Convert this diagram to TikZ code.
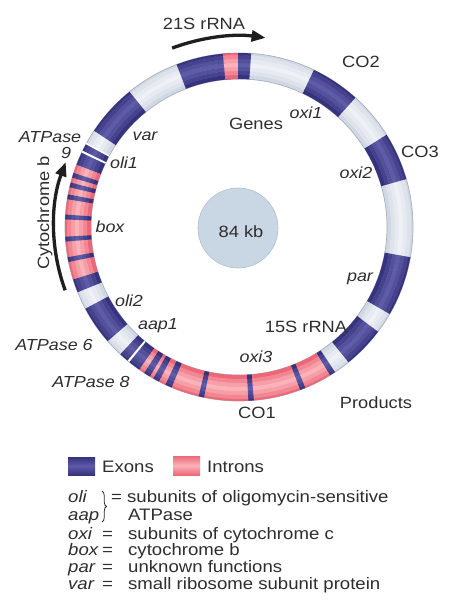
\documentclass[tikz,border=0pt]{standalone}
\usepackage{fontspec}
\setmainfont{Liberation Sans}[FakeStretch=1.12]
\usetikzlibrary{arrows.meta,decorations.pathreplacing}
\definecolor{exD}{HTML}{36327C}
\definecolor{exM}{HTML}{5E5BA7}
\definecolor{inD}{HTML}{EC6878}
\definecolor{inM}{HTML}{FBB2B8}
\definecolor{ltD}{HTML}{D2D8E3}
\definecolor{ltM}{HTML}{EEF1F6}
\definecolor{rim}{HTML}{A8B0BD}
\definecolor{kbF}{HTML}{C9D6E4}
\definecolor{kbB}{HTML}{B0BFCF}
\definecolor{txt}{HTML}{2E2E2E}
\definecolor{arr}{HTML}{1E1E1E}
\newcommand\annsec[5]{\fill[#5] ({#1}:#4pt) arc[start angle={#1},end angle={#2},radius=#4pt] -- ({#2}:#3pt) arc[start angle={#2},end angle={#1},radius=#3pt] -- cycle;}
\newcommand\ringband[4]{%
  \foreach \ri/\ro/\p in {148/152.3/0,152/156.3/40,156/160.3/75,160/164.3/100,164/168.3/75,168/172.3/40,172/174/0}{\annsec{#1}{#2}{\ri}{\ro}{#4!\p!#3}}}
\tikzset{
  lab/.style={font=\fontsize{16.3}{18}\selectfont, text=txt, inner sep=0pt, anchor=base},
  ilab/.style={lab, font=\fontsize{16}{18}\selectfont\itshape},
  leg/.style={font=\fontsize{16.6}{18}\selectfont, text=txt, inner sep=0pt, anchor=base west},
  ileg/.style={leg, font=\fontsize{16.6}{18}\selectfont\itshape},
  bigarrow/.style={line width=3.3pt, draw=arr, -{Triangle[length=14pt,width=11pt]}}
}
\begin{document}
\begin{tikzpicture}[x=1pt,y=-1pt]
\useasboundingbox (0,0) rectangle (463,610);
\fill[white] (0,0) rectangle (463,610);
\begin{scope}[shift={(239,227)}]
  % base ring
  \ringband{0}{360}{ltD}{ltM}
  \draw[rim, line width=0.7pt] (0,0) circle[radius=148pt];
  \draw[rim, line width=0.7pt] (0,0) circle[radius=174pt];
  % 21S rRNA
  \ringband{86}{111}{exD}{exM}
  \ringband{90.4}{95.3}{inD}{inM}
  % CO2, CO3
  \ringband{48}{64.5}{exD}{exM}
  \ringband{16}{32}{exD}{exM}
  % par
  \ringband{-30}{-10}{exD}{exM}
  % 15S rRNA
  \ringband{-51}{-37}{exD}{exM}
  \ringband{-58.5}{-56.5}{exD}{exM}
  % CO1 (oxi3)
  \ringband{235}{301.5}{inD}{inM}
  \foreach \a/\b in {237/239.2,240.5/242.6,245/247.2,256.6/258.4,273.1/274.9,290.6/292.4}{\ringband{\a}{\b}{exD}{exM}}
  % aap1 / ATPase 8
  \ringband{227}{235}{exD}{exM}
  \annsec{230.2}{230.9}{148}{174}{white}
  % ATPase 6 (oli2)
  \ringband{208}{221}{exD}{exM}
  % box
  \ringband{197.5}{202}{exD}{exM}
  \ringband{159}{197.5}{inD}{inM}
  \foreach \a/\b in {161.9/163.5,165.2/166.8,169.2/170.8,175.9/177.5,183.2/184.8,190/191.6}{\ringband{\a}{\b}{exD}{exM}}
  % oli1 / ATPase 9
  \ringband{151.5}{159}{exD}{exM}
  \annsec{154}{154.7}{148}{174}{white}
  \annsec{151.1}{151.6}{148}{174}{white}
  % var
  \ringband{129}{146.4}{exD}{exM}
  % arrows
  \draw[bigarrow] (110.5:191pt) arc[start angle=110.5,end angle=82,radius=191pt];
  \draw[bigarrow] (200:185pt) arc[start angle=200,end angle=159.5,radius=185pt];
\end{scope}
% centre
\node[circle, fill=kbF, draw=kbB, line width=0.6pt, minimum size=80pt, inner sep=0pt] (core) at (238,228) {};
\node[lab] (kb) at (241,237) {84 kb};
% labels
\node[lab] (t21) at (204,30) {21S rRNA};
\node[lab] (co2) at (361,67.5) {CO2};
\node[lab] (co3) at (420,157) {CO3};
\node[ilab] (oxi1) at (306,118) {oxi1};
\node[ilab] (oxi2) at (356,178) {oxi2};
\node[ilab] (par) at (360,281) {par};
\node[lab] (genes) at (256,129) {Genes};
\node[lab] (s15) at (306,332) {15S rRNA};
\node[ilab] (oxi3) at (256,362) {oxi3};
\node[lab] (co1) at (257,418) {CO1};
\node[lab] (prod) at (376,408) {Products};
\node[ilab] (atp6) at (54,350) {ATPase 6};
\node[ilab] (aap1) at (158,329) {aap1};
\node[ilab] (atp8) at (91,387) {ATPase 8};
\node[ilab] (oli2) at (129,306) {oli2};
\node[ilab] (box) at (110,232) {box};
\node[ilab] (oli1) at (124,168) {oli1};
\node[ilab] (var) at (145,140) {var};
\node[ilab] (atp9a) at (50,142) {ATPase};
\node[ilab] (atp9b) at (66,158) {9};
\node[lab, anchor=center, rotate=90] (cytb) at (45,213) {Cytochrome b};
% legend
\shade[top color=exD, bottom color=exD, middle color=exM] (68,457) rectangle (95,475);
\shade[top color=inD, bottom color=inD, middle color=inM] (173,456) rectangle (200,475);
\node[leg] (exT) at (102,472) {Exons};
\node[leg] (inT) at (207,472) {Introns};
\node[ileg] (lo) at (68,502) {oli};
\node[ileg] (la) at (68,520) {aap};
\draw[txt, line width=0.8pt, decorate, decoration={brace, amplitude=4.5pt}] (102,491) -- (102,522);
\node[leg] (le1) at (111,502) {=};
\node[leg] (l1) at (127,502) {subunits of oligomycin-sensitive};
\node[leg] (l2) at (128,520) {ATPase};
\node[ileg] (lx) at (68,539) {oxi};
\node[leg] (le3) at (102,539) {=};
\node[leg] (l3) at (128,539) {subunits of cytochrome c};
\node[ileg] (lb) at (68,555) {box};
\node[leg] (le4) at (102,555) {=};
\node[leg] (l4) at (128,555) {cytochrome b};
\node[ileg] (lp) at (68,572) {par};
\node[leg] (le5) at (102,572) {=};
\node[leg] (l5) at (128,572) {unknown functions};
\node[ileg] (lv) at (68,589) {var};
\node[leg] (le6) at (102,589) {=};
\node[leg] (l6) at (128,589) {small ribosome subunit protein};
\end{tikzpicture}
\end{document}
